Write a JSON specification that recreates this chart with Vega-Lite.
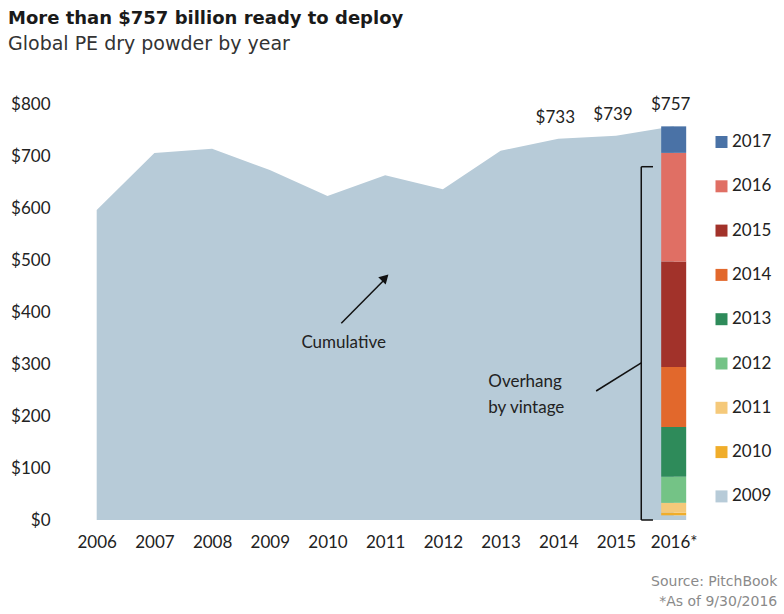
{
  "$schema": "https://vega.github.io/schema/vega-lite/v6.json",
  "width": 640,
  "height": 416,
  "autosize": {"type": "none"},
  "padding": {"left": 60, "top": 104, "right": 84, "bottom": 94},
  "background": "white",
  "title": {
    "text": "More than $757 billion ready to deploy",
    "subtitle": "Global PE dry powder by year",
    "anchor": "start",
    "frame": "group",
    "dx": -52,
    "offset": 41,
    "font": "DejaVu Sans",
    "fontSize": 18,
    "fontWeight": "bold",
    "color": "#1a1a1a",
    "subtitleFont": "DejaVu Sans",
    "subtitleFontSize": 19,
    "subtitleColor": "#333333",
    "subtitlePadding": 7
  },
  "config": {
    "view": {"stroke": null},
    "axis": {"labelFont": "Lato", "labelFontSize": 17, "labelColor": "#222222", "grid": false, "domain": false, "ticks": false},
    "legend": {"labelFont": "Lato", "labelFontSize": 17, "labelColor": "#222222"},
    "text": {"font": "Lato", "fontSize": 17, "color": "#222222"}
  },
  "datasets": {
    "cumulative": [
      {"year": 2006, "value": 596},
      {"year": 2007, "value": 706},
      {"year": 2008, "value": 714},
      {"year": 2009, "value": 673},
      {"year": 2010, "value": 623},
      {"year": 2011, "value": 663},
      {"year": 2012, "value": 636},
      {"year": 2013, "value": 710},
      {"year": 2014, "value": 733},
      {"year": 2015, "value": 739},
      {"year": 2016, "value": 757}
    ],
    "overhang": [
      {"year": 2016, "vintage": 2009, "amount": 9},
      {"year": 2016, "vintage": 2010, "amount": 5},
      {"year": 2016, "vintage": 2011, "amount": 19},
      {"year": 2016, "vintage": 2012, "amount": 50},
      {"year": 2016, "vintage": 2013, "amount": 96},
      {"year": 2016, "vintage": 2014, "amount": 115},
      {"year": 2016, "vintage": 2015, "amount": 203},
      {"year": 2016, "vintage": 2016, "amount": 209},
      {"year": 2016, "vintage": 2017, "amount": 51}
    ],
    "lines": [
      {"x": 2010.239, "y": 378.3, "x2": 2011.02, "y2": 466},
      {"x": 2014.656, "y": 248.1, "x2": 2015.438, "y2": 302},
      {"x": 2015.438, "y": 0, "x2": 2015.438, "y2": 679.4},
      {"x": 2015.438, "y": 679.4, "x2": 2015.641, "y2": 679.4},
      {"x": 2015.438, "y": 0, "x2": 2015.641, "y2": 0}
    ],
    "notes": [
      {"x": 2012.787, "y": 265, "text": "Overhang"},
      {"x": 2012.787, "y": 216, "text": "by vintage"}
    ]
  },
  "layer": [
    {
      "data": {"name": "cumulative"},
      "mark": {"type": "area", "color": "#b7cbd8", "line": false},
      "encoding": {
        "x": {
          "field": "year",
          "type": "quantitative",
          "scale": {"domain": [2005.364, 2016.456], "nice": false, "zero": false, "padding": 0},
          "axis": {
            "title": null,
            "values": [2006, 2007, 2008, 2009, 2010, 2011, 2012, 2013, 2014, 2015, 2016],
            "format": "d",
            "labelExpr": "datum.value == 2016 ? '2016*' : datum.label",
            "labelPadding": 14
          }
        },
        "y": {
          "field": "value",
          "type": "quantitative",
          "scale": {"domain": [0, 800], "nice": false, "padding": 0},
          "axis": {
            "title": null,
            "values": [0, 100, 200, 300, 400, 500, 600, 700, 800],
            "labelExpr": "'$' + datum.value",
            "labelPadding": 10
          }
        }
      }
    },
    {
      "data": {"name": "overhang"},
      "mark": {"type": "bar", "size": 25},
      "encoding": {
        "x": {"field": "year", "type": "quantitative"},
        "y": {"field": "amount", "type": "quantitative", "stack": "zero"},
        "order": {"field": "vintage", "type": "quantitative", "sort": "ascending"},
        "color": {
          "field": "vintage",
          "type": "nominal",
          "scale": {
            "domain": [2017, 2016, 2015, 2014, 2013, 2012, 2011, 2010, 2009],
            "range": ["#4a72a6", "#e06f64", "#a2322a", "#e2682c", "#2e8b5a", "#74c386", "#f5c97a", "#f0ad2a", "#b7cbd8"]
          },
          "legend": {
            "title": null,
            "orient": "none",
            "legendX": 653,
            "legendY": 29.5,
            "symbolType": "square",
            "symbolSize": 144,
            "symbolStrokeWidth": 0,
            "rowPadding": 26.3,
            "labelOffset": 2
          }
        }
      }
    },
    {
      "data": {"name": "cumulative"},
      "transform": [{"filter": "datum.year >= 2014"}],
      "mark": {"type": "text", "dy": -21, "dx": -3},
      "encoding": {
        "x": {"field": "year", "type": "quantitative"},
        "y": {"field": "value", "type": "quantitative"},
        "text": {"field": "value", "type": "quantitative", "format": "$d"}
      }
    },
    {
      "data": {"name": "lines"},
      "mark": {"type": "rule", "color": "#111111", "strokeWidth": 1.5},
      "encoding": {
        "x": {"field": "x", "type": "quantitative"},
        "y": {"field": "y", "type": "quantitative"},
        "x2": {"field": "x2"},
        "y2": {"field": "y2"}
      }
    },
    {
      "data": {"values": [{"x": 2011.0, "y": 466}]},
      "mark": {"type": "point", "shape": "triangle-up", "filled": true, "color": "#111111", "size": 110, "angle": 45, "opacity": 1},
      "encoding": {
        "x": {"field": "x", "type": "quantitative"},
        "y": {"field": "y", "type": "quantitative"}
      }
    },
    {
      "data": {"values": [{"x": 2010.28, "y": 340, "text": "Cumulative"}]},
      "mark": {"type": "text", "baseline": "middle", "align": "center"},
      "encoding": {
        "x": {"field": "x", "type": "quantitative"},
        "y": {"field": "y", "type": "quantitative"},
        "text": {"field": "text"}
      }
    },
    {
      "data": {"name": "notes"},
      "mark": {"type": "text", "baseline": "middle", "align": "left"},
      "encoding": {
        "x": {"field": "x", "type": "quantitative"},
        "y": {"field": "y", "type": "quantitative"},
        "text": {"field": "text"}
      }
    },
    {
      "data": {"values": [
        {"x": 2017.795, "y": -118.7, "text": "Source: PitchBook"},
        {"x": 2017.795, "y": -157.1, "text": "*As of 9/30/2016"}
      ]},
      "mark": {"type": "text", "align": "right", "baseline": "middle", "font": "DejaVu Sans", "fontSize": 14, "color": "#8a8a8a"},
      "encoding": {
        "x": {"field": "x", "type": "quantitative"},
        "y": {"field": "y", "type": "quantitative"},
        "text": {"field": "text"}
      }
    }
  ]
}
